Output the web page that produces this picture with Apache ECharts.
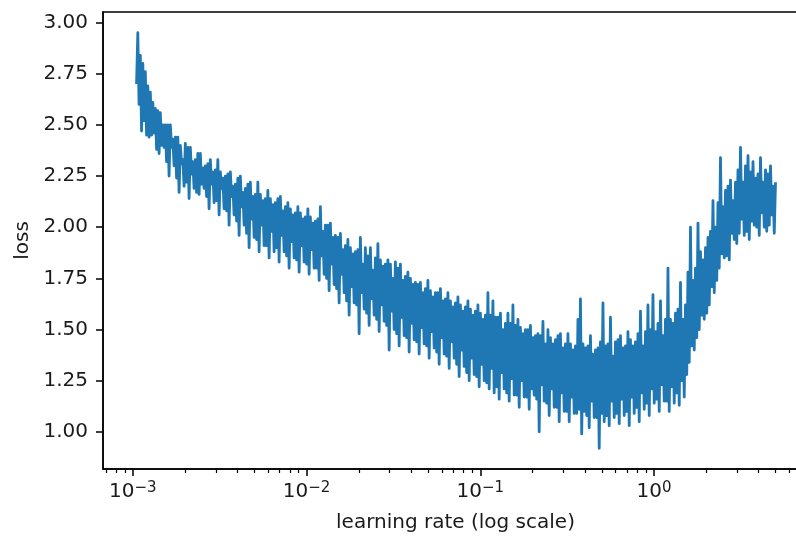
<!DOCTYPE html>
<html>
<head>
<meta charset="utf-8">
<script src="https://cdn.jsdelivr.net/npm/echarts@6/dist/echarts.min.js"></script>
<style>
  html, body { margin: 0; padding: 0; background: #fff; }
  #chart { width: 796px; height: 536px; }
</style>
</head>
<body>
<div id="chart"></div>
<script>
// lr finder sweep: geometric schedule between these two rates
const lrStart = 1.05e-3;
const lrEnd = 5.0;

// loss per step (8 steps per ~10px of the x axis)
const loss = [
  2.70, 2.95, 2.60, 2.84, 2.47, 2.80, 2.52, 2.76,  2.45, 2.69, 2.44, 2.66, 2.45, 2.61, 2.46, 2.58,
  2.38, 2.57, 2.36, 2.56, 2.40, 2.50, 2.39, 2.50,  2.32, 2.50, 2.25, 2.50, 2.39, 2.43, 2.30, 2.44,
  2.24, 2.44, 2.17, 2.40, 2.31, 2.33, 2.20, 2.41,  2.22, 2.39, 2.14, 2.39, 2.26, 2.32, 2.19, 2.33,
  2.17, 2.36, 2.16, 2.36, 2.21, 2.29, 2.19, 2.30,  2.15, 2.31, 2.09, 2.33, 2.21, 2.27, 2.12, 2.28,
  2.13, 2.33, 2.06, 2.27, 2.19, 2.24, 2.09, 2.25,  2.08, 2.26, 2.01, 2.27, 2.15, 2.20, 2.06, 2.21,
  2.03, 2.24, 1.96, 2.25, 2.10, 2.17, 2.01, 2.19,  1.97, 2.21, 1.90, 2.22, 2.04, 2.15, 1.95, 2.16,
  1.94, 2.22, 1.88, 2.16, 2.01, 2.13, 1.91, 2.14,  1.91, 2.18, 1.85, 2.14, 1.98, 2.11, 1.88, 2.12,
  1.90, 2.14, 1.83, 2.15, 1.96, 2.08, 1.88, 2.10,  1.86, 2.12, 1.80, 2.09, 1.93, 2.06, 1.85, 2.07,
  1.84, 2.10, 1.78, 2.07, 1.91, 2.04, 1.83, 2.05,  1.82, 2.09, 1.77, 2.05, 1.89, 2.02, 1.80, 2.03,
  1.80, 2.04, 1.74, 2.10, 1.86, 1.98, 1.77, 2.01,  1.75, 2.01, 1.69, 2.02, 1.82, 1.95, 1.72, 1.96,
  1.70, 1.95, 1.63, 1.97, 1.77, 1.89, 1.68, 1.91,  1.64, 1.94, 1.57, 1.90, 1.71, 1.87, 1.63, 1.88,
  1.62, 1.89, 1.48, 1.95, 1.68, 1.82, 1.60, 1.90,  1.58, 1.86, 1.52, 1.90, 1.65, 1.79, 1.57, 1.85,
  1.55, 1.92, 1.49, 1.84, 1.62, 1.81, 1.54, 1.82,  1.52, 1.84, 1.40, 1.82, 1.59, 1.75, 1.50, 1.83,
  1.48, 1.80, 1.42, 1.82, 1.56, 1.74, 1.47, 1.76,  1.46, 1.78, 1.39, 1.75, 1.53, 1.72, 1.45, 1.73,
  1.44, 1.72, 1.38, 1.73, 1.51, 1.68, 1.43, 1.70,  1.42, 1.74, 1.36, 1.69, 1.49, 1.66, 1.41, 1.68,
  1.39, 1.68, 1.33, 1.70, 1.46, 1.64, 1.38, 1.65,  1.37, 1.68, 1.31, 1.64, 1.44, 1.61, 1.36, 1.63,
  1.33, 1.66, 1.27, 1.62, 1.40, 1.59, 1.32, 1.61,  1.29, 1.64, 1.25, 1.60, 1.36, 1.57, 1.28, 1.59,
  1.27, 1.62, 1.22, 1.58, 1.33, 1.55, 1.25, 1.57,  1.24, 1.68, 1.21, 1.57, 1.31, 1.64, 1.19, 1.56,
  1.22, 1.56, 1.16, 1.58, 1.29, 1.50, 1.21, 1.53,  1.19, 1.58, 1.15, 1.53, 1.26, 1.62, 1.18, 1.52,
  1.18, 1.55, 1.12, 1.51, 1.25, 1.48, 1.17, 1.50,  1.17, 1.50, 1.11, 1.52, 1.21, 1.46, 1.18, 1.47,
  1.16, 1.48, 1.00, 1.47, 1.23, 1.54, 1.15, 1.43,  1.14, 1.50, 1.08, 1.46, 1.21, 1.43, 1.12, 1.45,
  1.12, 1.47, 1.05, 1.48, 1.19, 1.41, 1.10, 1.43,  1.10, 1.48, 1.05, 1.43, 1.17, 1.40, 1.09, 1.42,
  1.09, 1.55, 1.11, 1.65, 0.99, 1.43, 1.10, 1.41,  1.08, 1.42, 1.02, 1.47, 1.15, 1.38, 1.07, 1.40,
  1.07, 1.41, 0.92, 1.44, 1.09, 1.63, 1.05, 1.42,  1.08, 1.43, 1.03, 1.56, 1.15, 1.37, 1.07, 1.44,
  1.09, 1.45, 1.04, 1.47, 1.16, 1.41, 1.08, 1.42,  1.10, 1.49, 1.03, 1.45, 1.17, 1.42, 1.09, 1.44,
  1.12, 1.48, 1.05, 1.59, 1.19, 1.42, 1.11, 1.49,  1.14, 1.62, 1.08, 1.50, 1.21, 1.67, 1.14, 1.49,
  1.16, 1.53, 1.10, 1.64, 1.23, 1.47, 1.15, 1.55,  1.15, 1.80, 1.10, 1.55, 1.22, 1.53, 1.14, 1.58,
  1.19, 1.60, 1.13, 1.73, 1.25, 1.55, 1.17, 1.62,  1.28, 1.78, 1.34, 2.00, 1.42, 1.74, 1.40, 1.80,
  1.46, 2.02, 1.50, 1.88, 1.57, 1.84, 1.55, 1.90,  1.58, 1.95, 1.62, 1.98, 1.71, 2.13, 1.68, 2.00,
  1.74, 2.12, 1.80, 2.34, 1.87, 2.10, 1.85, 2.18,  1.86, 2.20, 1.84, 2.23, 1.97, 2.13, 1.94, 2.22,
  1.92, 2.28, 1.97, 2.39, 2.04, 2.22, 1.96, 2.30,  1.98, 2.35, 1.94, 2.27, 2.03, 2.32, 2.01, 2.24,
  2.00, 2.26, 1.96, 2.34, 2.07, 2.22, 2.00, 2.28,  1.98, 2.26, 2.01, 2.30, 2.06, 2.20, 1.97, 2.22
];

const xMajorTicks = [0.001, 0.01, 0.1, 1];
const xMinorTicks = [
  0.0007, 0.0008, 0.0009,
  0.002, 0.003, 0.004, 0.005, 0.006, 0.007, 0.008, 0.009,
  0.02, 0.03, 0.04, 0.05, 0.06, 0.07, 0.08, 0.09,
  0.2, 0.3, 0.4, 0.5, 0.6, 0.7, 0.8, 0.9,
  2, 3, 4, 5, 6, 7
];
const yTicks = [1.0, 1.25, 1.5, 1.75, 2.0, 2.25, 2.5, 2.75, 3.0];

const lr = loss.map((_, i) => lrStart * Math.pow(lrEnd / lrStart, i / (loss.length - 1)));
const points = loss.map((v, i) => [lr[i], v]);

const FONT = "DejaVu Sans";
const INK = "#1a1a1a";
const xMin = Math.pow(10, -3.172);
const xMax = Math.pow(10, 0.886);

const spine = { color: "#000", width: 1.5 };

const chart = echarts.init(document.getElementById("chart"), null, { renderer: "canvas" });

chart.setOption({
  animation: false,
  backgroundColor: "#fff",
  grid: {
    left: 103,
    top: 12,
    width: 705,
    height: 457,
    containLabel: false,
    outerBoundsMode: "none",
    show: true,
    borderColor: "#000",
    borderWidth: 1.5,
    backgroundColor: "transparent",
  },
  xAxis: [
    {
      type: "log",
      logBase: 10,
      min: xMin,
      max: xMax,
      position: "bottom",
      axisLine: { show: true, onZero: false, lineStyle: spine },
      axisTick: { show: true, length: 7, lineStyle: spine, customValues: xMajorTicks },
      axisLabel: {
        customValues: xMajorTicks,
        margin: 12,
        formatter: (v) => {
          const e = Math.round(Math.log10(v));
          return "{b|10}{s|" + (e < 0 ? "\u2212" + -e : e) + "}";
        },
        rich: {
          b: { fontFamily: FONT, fontSize: 20, color: INK, lineHeight: 22 },
          s: { fontFamily: FONT, fontSize: 15, color: INK, verticalAlign: "top", lineHeight: 22 },
        },
      },
      splitLine: { show: false },
      name: "learning rate (log scale)",
      nameLocation: "middle",
      nameGap: 44,
      nameTextStyle: { fontFamily: FONT, fontSize: 20, color: INK },
    },
    {
      // minor ticks only
      type: "log",
      logBase: 10,
      min: xMin,
      max: xMax,
      position: "bottom",
      axisLine: { show: false },
      axisTick: { show: true, length: 4, lineStyle: { color: "#000", width: 1.2 }, customValues: xMinorTicks },
      axisLabel: { show: false },
      splitLine: { show: false },
    },
  ],
  yAxis: {
    type: "value",
    min: 0.8185,
    max: 3.0515,
    axisLine: { show: true, onZero: false, lineStyle: spine },
    axisTick: { show: true, length: 7, lineStyle: spine, customValues: yTicks },
    axisLabel: {
      customValues: yTicks,
      margin: 15,
      formatter: (v) => v.toFixed(2),
      fontFamily: FONT,
      fontSize: 20,
      color: INK,
    },
    splitLine: { show: false },
    name: "loss",
    nameLocation: "middle",
    nameGap: 66,
    nameTextStyle: { fontFamily: FONT, fontSize: 20, color: INK },
  },
  series: [
    {
      type: "line",
      data: points,
      xAxisIndex: 0,
      showSymbol: false,
      symbol: "none",
      lineStyle: { color: "#1f77b4", width: 2.8, join: "round" },
    },
  ],
});
</script>
</body>
</html>
